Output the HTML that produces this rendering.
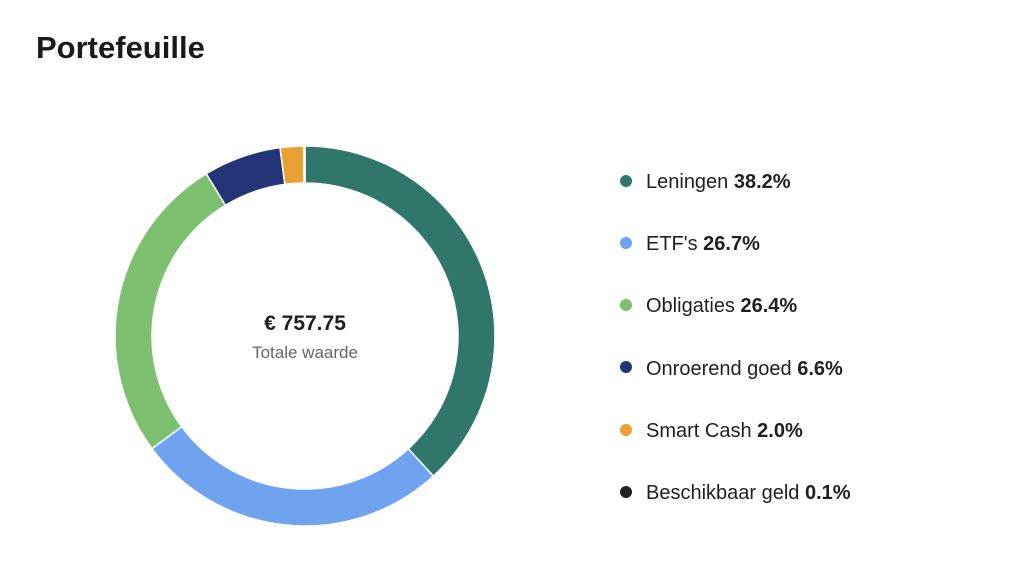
<!DOCTYPE html>
<html><head><meta charset="utf-8"><style>
body{margin:0;background:#fff;width:1024px;height:568px;overflow:hidden;font-family:"Liberation Sans",sans-serif;}
#title{position:absolute;left:36px;top:30px;font-size:31px;font-weight:bold;color:#1a1a1a;}
svg{position:absolute;left:0;top:0;}
.leg{position:absolute;left:620px;font-size:20px;color:#1f1f1f;height:24px;line-height:24px;}
.dot{display:inline-block;width:12px;height:12px;border-radius:50%;margin-right:14px;vertical-align:middle;position:relative;top:-2px;}
</style></head><body>
<div id="title">Portefeuille</div>
<svg id="chart" width="1024" height="568"></svg>
<div id="legend"></div>
<script>
const categories=["Leningen","ETF's","Obligaties","Onroerend goed","Smart Cash","Beschikbaar geld"];
const values=[38.2,26.7,26.4,6.6,2.0,0.1];
const colors=["#31766a","#6fa3f0","#7dc06f","#233576","#eaa032","#222222"];
const totalLabel="€ 757.75";
const subLabel="Totale waarde";
const svg=document.getElementById('chart');
const NS="http://www.w3.org/2000/svg";
const cx=305,cy=336,R=190,r=153;
const total=values.reduce((a,b)=>a+b,0);
function pt(rad,a){return [cx+rad*Math.sin(a),cy-rad*Math.cos(a)];}
let start=0;
values.forEach((v,i)=>{
  const end=start+v/total*2*Math.PI;
  const large=(end-start)>Math.PI?1:0;
  const [x1,y1]=pt(R,start),[x2,y2]=pt(R,end),[x3,y3]=pt(r,end),[x4,y4]=pt(r,start);
  const p=document.createElementNS(NS,'path');
  p.setAttribute('d',`M${x1},${y1}A${R},${R} 0 ${large} 1 ${x2},${y2}L${x3},${y3}A${r},${r} 0 ${large} 0 ${x4},${y4}Z`);
  p.setAttribute('fill',colors[i]);
  p.setAttribute('stroke','#fff');
  p.setAttribute('stroke-width','1.5');
  
  
  svg.appendChild(p);
  start=end;
});
const t1=document.createElementNS(NS,'text');
t1.setAttribute('x',cx);t1.setAttribute('y',330);t1.setAttribute('text-anchor','middle');
t1.setAttribute('font-size','21');t1.setAttribute('font-weight','bold');t1.setAttribute('fill','#1f1f1f');
t1.setAttribute('font-family','Liberation Sans, sans-serif');
t1.textContent=totalLabel;


svg.appendChild(t1);
const t2=document.createElementNS(NS,'text');
t2.setAttribute('x',cx);t2.setAttribute('y',358);t2.setAttribute('text-anchor','middle');
t2.setAttribute('font-size','17');t2.setAttribute('fill','#666');
t2.setAttribute('font-family','Liberation Sans, sans-serif');
t2.textContent=subLabel;


svg.appendChild(t2);
const leg=document.getElementById('legend');
categories.forEach((c,i)=>{
  const d=document.createElement('div');
  d.className='leg';
  d.style.top=(170+i*62.2)+'px';
  
  
  d.innerHTML=`<span class="dot" style="background:${colors[i]}"></span>${c} <b>${values[i].toFixed(1)}%</b>`;
  leg.appendChild(d);
});
</script>
</body></html>
